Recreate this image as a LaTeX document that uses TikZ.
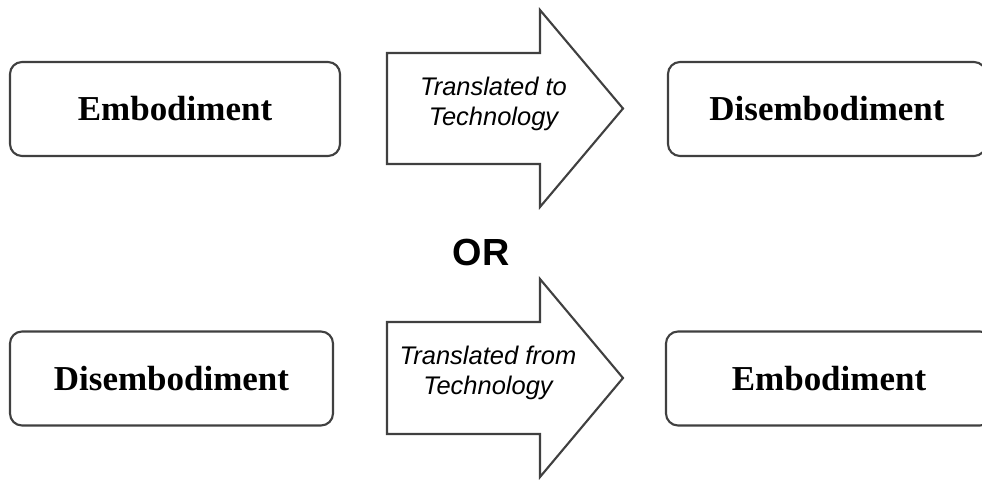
\documentclass[tikz,border=0pt]{standalone}
\usepackage{fontspec}
\setmainfont{Liberation Serif}
\newfontfamily\sansfont{Liberation Sans}
\usetikzlibrary{backgrounds}
\tikzstyle{none}=[inner sep=0pt]
\tikzstyle{stage}=[rectangle,rounded corners=0.24cm,draw=black!75,line width=1.2,fill=white,minimum height=1.88cm,font=\fontsize{19.9}{24}\selectfont\bfseries]
\tikzstyle{blockarrow}=[-,draw=black!75,line width=1.2,fill=white,line join=miter]
\tikzstyle{arrowtext}=[align=center,inner sep=0pt,font=\sansfont\itshape\fontsize{14.5}{17}\selectfont]
\tikzstyle{ortext}=[inner sep=0pt,font=\sansfont\bfseries\fontsize{21.5}{24}\selectfont]
\pgfdeclarelayer{edgelayer}
\pgfdeclarelayer{nodelayer}
\pgfsetlayers{edgelayer,nodelayer,main}

\begin{document}
\begin{tikzpicture}
	\useasboundingbox (0, 0) rectangle (19.64, 9.58);
	\begin{pgfonlayer}{nodelayer}
		\node [style=stage, minimum width=6.6cm] (E1) at (3.5, 7.4) {Embodiment};
		\node [style=stage, minimum width=6.36cm] (D1) at (16.54, 7.4) {Disembodiment};
		\node [style=stage, minimum width=6.46cm] (D2) at (3.43, 2.01) {Disembodiment};
		\node [style=stage, minimum width=6.52cm] (E2) at (16.58, 2.01) {Embodiment};

		\node [style=arrowtext] (to) at (9.87, 7.5) {Translated to\\Technology};
		\node [style=arrowtext] (from) at (9.76, 2.12) {Translated from\\Technology};

		\node [style=ortext] (or) at (9.62, 4.54) {OR};

		% top block arrow
		\node [style=none] (Tbl) at (7.74, 6.3) {};
		\node [style=none] (Ttl) at (7.74, 8.52) {};
		\node [style=none] (Ttn) at (10.8, 8.52) {};
		\node [style=none] (Tht) at (10.8, 9.38) {};
		\node [style=none] (Ttip) at (12.46, 7.41) {};
		\node [style=none] (Thb) at (10.8, 5.44) {};
		\node [style=none] (Tbn) at (10.8, 6.3) {};

		% bottom block arrow
		\node [style=none] (Bbl) at (7.74, 0.9) {};
		\node [style=none] (Btl) at (7.74, 3.14) {};
		\node [style=none] (Btn) at (10.8, 3.14) {};
		\node [style=none] (Bht) at (10.8, 4.0) {};
		\node [style=none] (Btip) at (12.46, 2.02) {};
		\node [style=none] (Bhb) at (10.8, 0.04) {};
		\node [style=none] (Bbn) at (10.8, 0.9) {};
	\end{pgfonlayer}
	\begin{pgfonlayer}{edgelayer}
		\draw [style=blockarrow] (Tbl.center) to (Ttl.center) to (Ttn.center) to (Tht.center) to (Ttip.center) to (Thb.center) to (Tbn.center) -- cycle;
		\draw [style=blockarrow] (Bbl.center) to (Btl.center) to (Btn.center) to (Bht.center) to (Btip.center) to (Bhb.center) to (Bbn.center) -- cycle;
	\end{pgfonlayer}
\end{tikzpicture}
\end{document}
